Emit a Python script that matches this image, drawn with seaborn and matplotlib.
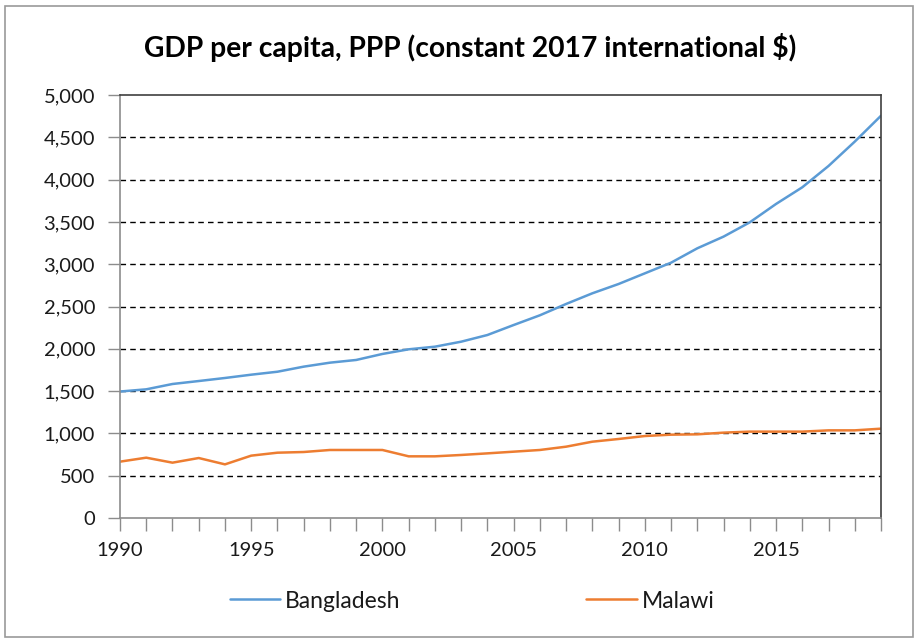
import matplotlib
matplotlib.use("Agg")
import matplotlib.pyplot as plt
import matplotlib.ticker as mticker
from matplotlib.patches import Rectangle
import seaborn as sns
import pandas as pd

years = list(range(1990, 2020))
bangladesh = [1495, 1521, 1584, 1619, 1655, 1694, 1729, 1789, 1836, 1868,
              1939, 1994, 2025, 2084, 2163, 2281, 2396, 2530, 2656, 2766,
              2892, 3018, 3188, 3326, 3495, 3712, 3909, 4161, 4449, 4755]
malawi = [666, 713, 654, 709, 634, 737, 772, 780, 804, 804,
          804, 729, 729, 745, 764, 784, 804, 843, 902, 934,
          969, 985, 989, 1009, 1021, 1021, 1021, 1036, 1036, 1056]
series_names = ["Bangladesh", "Malawi"]
title = "GDP per capita, PPP (constant 2017 international $)"

df = pd.DataFrame({
    "year": years * 2,
    "value": bangladesh + malawi,
    "country": [series_names[0]] * len(years) + [series_names[1]] * len(years),
})

sns.set_style("white")
plt.rcParams["font.family"] = ["Lato", "DejaVu Sans"]

fig = plt.figure(figsize=(9.19, 6.4), dpi=100)
ax = fig.add_axes([120 / 919, 1 - 518 / 640, (881 - 120) / 919, (518 - 95) / 640])

sns.lineplot(data=df, x="year", y="value", hue="country",
             palette={"Bangladesh": "#5B9BD5", "Malawi": "#ED7D31"},
             linewidth=1.8, ax=ax, legend=False)

ax.set_xlim(1990, 2019)
ax.set_ylim(0, 5000)
ax.set_xlabel("")
ax.set_ylabel("")
ax.xaxis.set_major_locator(mticker.FixedLocator([1990, 1995, 2000, 2005, 2010, 2015]))
ax.xaxis.set_minor_locator(mticker.MultipleLocator(1))
ax.yaxis.set_major_locator(mticker.MultipleLocator(500))
ax.yaxis.set_major_formatter(mticker.FuncFormatter(lambda v, p: f"{int(v):,}"))

ax.tick_params(axis="x", which="both", direction="out", length=9, width=1,
               color="#8c8c8c", labelsize=14.5, pad=8, bottom=True,
               labelcolor="#1a1a1a")
ax.tick_params(axis="y", which="major", direction="out", length=9, width=1,
               color="#8c8c8c", labelsize=14.5, pad=9, left=True,
               labelcolor="#1a1a1a")

for y in range(500, 5000, 500):
    ax.axhline(y, color="black", linestyle=(0, (4, 3)), linewidth=1, zorder=0.5)

for s in ["left", "bottom"]:
    ax.spines[s].set_color("#8c8c8c")
    ax.spines[s].set_linewidth(1.2)
for s in ["top", "right"]:
    ax.spines[s].set_visible(True)
    ax.spines[s].set_color("#404040")
    ax.spines[s].set_linewidth(1.2)

fig.text(470 / 919, 1 - 47 / 640, title, ha="center", va="center",
         fontsize=20.3, fontweight="bold", color="black")

handles = [plt.Line2D([], [], color="#5B9BD5", lw=1.8),
           plt.Line2D([], [], color="#ED7D31", lw=1.8)]
fig.legend(handles, series_names, loc="center", bbox_to_anchor=(472 / 919, 1 - 601 / 640),
           ncol=2, frameon=False, fontsize=16.5, handlelength=2.2,
           handletextpad=0.22, columnspacing=8.1, labelcolor="#1a1a1a")

fig.patches.append(Rectangle((5 / 919, 3 / 640), 908 / 919, 631 / 640,
                             transform=fig.transFigure, fill=False,
                             edgecolor="#9a9a9a", linewidth=1.2))

fig.savefig("out.png", dpi=100)
